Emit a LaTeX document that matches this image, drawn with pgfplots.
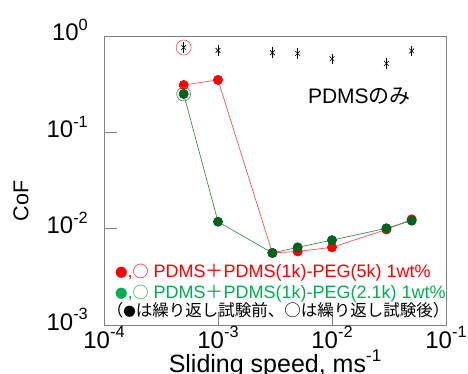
\documentclass[border=0pt]{standalone}
\usepackage{pgfplots}
\pgfplotsset{compat=1.18}
\usepackage{fontspec}
\setmainfont{Liberation Sans}
\newfontfamily\jp{Noto Sans CJK JP}
\newcommand\ts[1]{\raisebox{0.42em}{\scalebox{0.68}{#1}}}
\newcommand\bd{{\jp\fontsize{12.5}{12.5}\selectfont ●}}
\definecolor{redA}{RGB}{255,0,0}
\definecolor{redL}{RGB}{255,80,80}
\definecolor{grnD}{RGB}{0,100,30}
\definecolor{grnL}{RGB}{70,140,80}
\definecolor{grnT}{RGB}{0,176,80}
\definecolor{axg}{RGB}{128,128,128}
\begin{document}
\begin{tikzpicture}
\begin{axis}[
  at={(0,0)}, anchor=south west,
  scale only axis, width=342pt, height=289pt,
  xmode=log, ymode=log,
  xmin=1e-4, xmax=1e-1, ymin=1e-3, ymax=1,
  axis line style={axg, line width=0.8pt},
  xtick={1e-4,1e-3,1e-2,1e-1},
  xticklabels={10\ts{-4},10\ts{-3},10\ts{-2},10\ts{-1}},
  ytick={1e-3,1e-2,1e-1,1},
  yticklabels={10\ts{-3},10\ts{-2},10\ts{-1},10\ts{0}},
  xminorticks=false, yminorticks=false,
  tick align=inside, major tick length=13pt,
  tick style={axg, line width=0.8pt},
  xtick pos=bottom, ytick pos=left,
  ticklabel style={font=\fontsize{24}{25}\selectfont, inner sep=0pt},
  xticklabel style={anchor=base, yshift=-23pt},
  yticklabel style={anchor=base east, xshift=-16pt, yshift=-5pt},
  /pgf/number format/assume math mode=true,
  xlabel={Sliding speed, ms\ts{-1}},
  xlabel style={font=\fontsize{25}{27}\selectfont, inner sep=0pt, at={(rel axis cs:0.5,-0.164)}, anchor=base},
  ylabel={CoF},
  ylabel style={font=\fontsize{21.5}{23}\selectfont, at={(rel axis cs:-0.21,0.43)}, anchor=south},
  clip=false,
]
% PDMS only
\addplot[only marks, mark=x, mark size=3.4pt, black, mark options={line width=0.6pt},
  error bars/.cd, y dir=both, y explicit, error mark=-, error mark options={mark size=3.8pt, black, line width=0.6pt}]
  coordinates {
  (5e-4,0.76) +- (0,0.025)
  (1e-3,0.71) +- (0,0.025)
  (3e-3,0.67) +- (0,0.025)
  (5e-3,0.66) +- (0,0.025)
  (1e-2,0.58) +- (0,0.02)
  (3e-2,0.52) +- (0,0.02)
  (5e-2,0.70) +- (0,0.025)
  };
% red series
\addplot[redL, line width=0.7pt, mark=*, mark size=4.6pt, mark options={fill=redA, draw=redA}]
  coordinates {
  (5e-4,0.31) (1e-3,0.35) (3e-3,0.0056) (5e-3,0.0058) (1e-2,0.0064) (3e-2,0.0098) (5e-2,0.0125)
  };
% green series
\addplot[grnL, line width=0.7pt, mark=*, mark size=4.6pt, mark options={fill=grnD, draw=grnD}]
  coordinates {
  (5e-4,0.25) (1e-3,0.0118) (3e-3,0.0056) (5e-3,0.0064) (1e-2,0.0076) (3e-2,0.0101) (5e-2,0.0121)
  };
% open circles
\addplot[only marks, mark=o, mark size=7.5pt, redL, mark options={line width=0.6pt}]
  coordinates {(5e-4,0.76)};
\addplot[only marks, mark=o, mark size=7pt, grnL, mark options={line width=0.6pt}]
  coordinates {(5e-4,0.25)};
\node[anchor=base west, inner sep=0pt, font=\fontsize{21}{23}\selectfont] at (rel axis cs:0.596,0.768) {PDMS{\jp のみ}};
\node[anchor=base west, inner sep=0pt, text=redA, font=\fontsize{18}{20}\selectfont] at (rel axis cs:0.032,0.163)
  {\bd,{\jp\fontsize{16}{16}\selectfont ○} PDMS{\jp ＋}PDMS(1k)-PEG(5k) 1wt\%};
\node[anchor=base west, inner sep=0pt, text=grnT, font=\fontsize{18}{20}\selectfont] at (rel axis cs:0.032,0.09)
  {\bd,{\jp\fontsize{16}{16}\selectfont ○} PDMS{\jp ＋}PDMS(1k)-PEG(2.1k) 1wt\%};
\node[anchor=base west, inner sep=0pt, font=\jp\fontsize{16.5}{18}\selectfont] at (rel axis cs:0.008,0.03)
  {（\bd は繰り返し試験前、○は繰り返し試験後）};
\end{axis}
\pgfresetboundingbox
\path (-104pt,-49pt) rectangle (364pt,325pt);
\end{tikzpicture}
\end{document}
